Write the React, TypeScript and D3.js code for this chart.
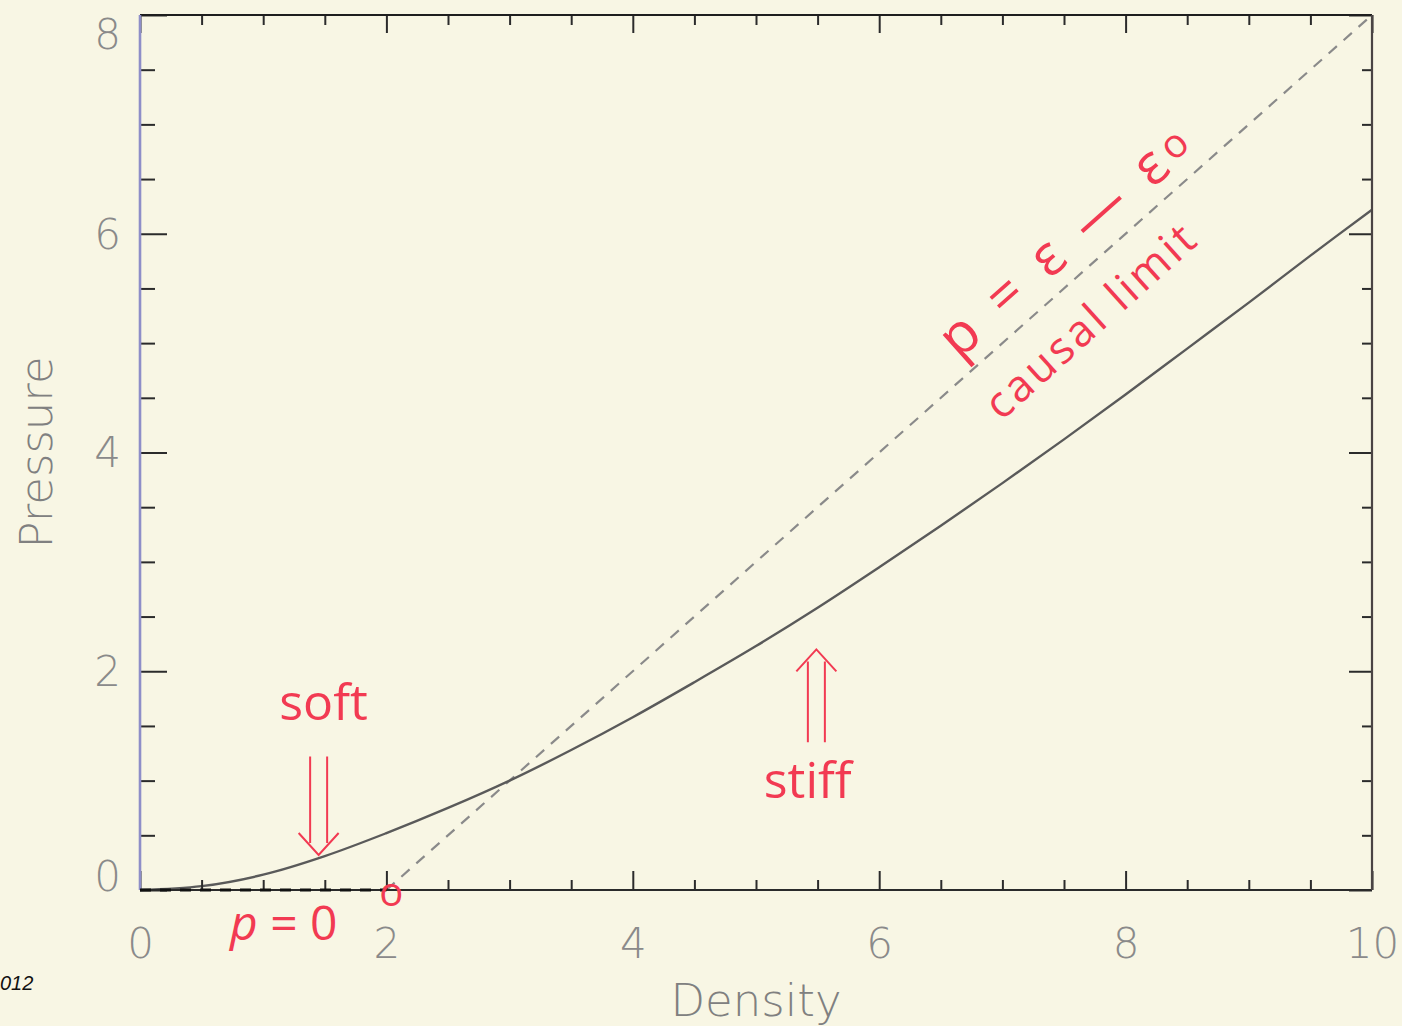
import React, { useEffect, useRef } from "react";
import * as d3 from "d3";

// equation of state curve
const density = [0, 0.5, 1, 1.5, 2, 2.5, 3, 3.5, 4, 4.5, 5, 5.5, 6, 6.5, 7, 7.5, 8, 8.5, 9, 9.5, 10];
const pressure = [0, 0.035, 0.14, 0.31, 0.52, 0.75, 1.0, 1.28, 1.58, 1.9, 2.23, 2.58, 2.95, 3.33, 3.72, 4.12, 4.53, 4.95, 5.37, 5.8, 6.22];

// causal limit p = e - e0 and the p = 0 segment
const causalDensity = [2, 10];
const causalPressure = [0, 8];
const zeroDensity = [0, 2];
const zeroPressure = [0, 0];

const densityTicks = [0, 2, 4, 6, 8, 10];
const pressureTicks = [0, 2, 4, 6, 8];

const W = 1402;
const H = 1026;
const RED = "#f23a52";

const App: React.FC = () => {
  const ref = useRef<SVGSVGElement | null>(null);

  useEffect(() => {
    if (!ref.current) return;
    const svg = d3.select(ref.current);
    svg.selectAll("*").remove();

    const x = d3.scaleLinear().domain([0, 10]).range([140, 1372]);
    const y = d3.scaleLinear().domain([0, 8]).range([890, 15]);

    svg.append("rect").attr("width", W).attr("height", H).attr("fill", "#f8f6e4");

    const minorX = d3.range(0, 10.001, 0.5).filter((v) => v % 2 !== 0);
    const minorY = d3.range(0, 8.001, 0.5).filter((v) => v % 2 !== 0);

    const styleAxis = (g: d3.Selection<SVGGElement, unknown, null, undefined>) => {
      g.select(".domain").remove();
      g.selectAll("line").attr("stroke", "#2b2b2b").attr("stroke-width", 2);
      g.attr("font-family", "'DejaVu Sans', sans-serif")
        .attr("font-size", 42)
        .attr("font-weight", 200);
      g.selectAll("text").attr("fill", "#8a8a8a");
    };

    // causal limit dashed line
    const line = d3
      .line<[number, number]>()
      .x((d) => x(d[0]))
      .y((d) => y(d[1]));

    svg
      .append("path")
      .attr("d", line(causalDensity.map((d, i) => [d, causalPressure[i]]) as [number, number][]))
      .attr("fill", "none")
      .attr("stroke", "#8a8a8a")
      .attr("stroke-width", 2.2)
      .attr("stroke-dasharray", "11,9");

    // EOS curve
    const curve = d3
      .line<[number, number]>()
      .x((d) => x(d[0]))
      .y((d) => y(d[1]))
      .curve(d3.curveCatmullRom);
    svg
      .append("path")
      .attr("d", curve(density.map((d, i) => [d, pressure[i]]) as [number, number][]))
      .attr("fill", "none")
      .attr("stroke", "#5a5a5a")
      .attr("stroke-width", 2.4);

    // bottom axis
    const bottom = svg
      .append("g")
      .attr("transform", `translate(0,${y(0)})`)
      .call(d3.axisBottom(x).tickValues(densityTicks).tickSize(-19).tickPadding(38).tickFormat(d3.format("d")));
    styleAxis(bottom);
    const bottomMinor = svg
      .append("g")
      .attr("transform", `translate(0,${y(0)})`)
      .call(d3.axisBottom(x).tickValues(minorX).tickSize(-10).tickFormat(() => ""));
    styleAxis(bottomMinor);

    // top axis
    const top = svg
      .append("g")
      .attr("transform", `translate(0,${y(8)})`)
      .call(d3.axisTop(x).tickValues(densityTicks).tickSize(-18).tickFormat(() => ""));
    styleAxis(top);
    const topMinor = svg
      .append("g")
      .attr("transform", `translate(0,${y(8)})`)
      .call(d3.axisTop(x).tickValues(minorX).tickSize(-10).tickFormat(() => ""));
    styleAxis(topMinor);

    // left axis
    const left = svg
      .append("g")
      .attr("transform", `translate(${x(0)},0)`)
      .call(d3.axisLeft(y).tickValues(pressureTicks).tickSize(-27).tickPadding(19).tickFormat(d3.format("d")));
    styleAxis(left);
    left
      .selectAll<SVGTextElement, number>("text")
      .attr("dy", (d) => (d === 8 ? "0.8em" : d === 0 ? "0.02em" : "0.34em"));
    const leftMinor = svg
      .append("g")
      .attr("transform", `translate(${x(0)},0)`)
      .call(d3.axisLeft(y).tickValues(minorY).tickSize(-15).tickFormat(() => ""));
    styleAxis(leftMinor);

    // right axis
    const right = svg
      .append("g")
      .attr("transform", `translate(${x(10)},0)`)
      .call(d3.axisRight(y).tickValues(pressureTicks).tickSize(-23).tickFormat(() => ""));
    styleAxis(right);
    const rightMinor = svg
      .append("g")
      .attr("transform", `translate(${x(10)},0)`)
      .call(d3.axisRight(y).tickValues(minorY).tickSize(-10).tickFormat(() => ""));
    styleAxis(rightMinor);

    // frame
    const frame = svg.append("g").attr("stroke-width", 2.2);
    frame.append("line").attr("x1", x(0)).attr("x2", x(10)).attr("y1", y(8)).attr("y2", y(8)).attr("stroke", "#1e1e1e");
    frame.append("line").attr("x1", x(0)).attr("x2", x(10)).attr("y1", y(0)).attr("y2", y(0)).attr("stroke", "#2a2a2a");
    frame.append("line").attr("x1", x(10)).attr("x2", x(10)).attr("y1", y(0)).attr("y2", y(8)).attr("stroke", "#4a4444");
    frame.append("line").attr("x1", x(0)).attr("x2", x(0)).attr("y1", y(0)).attr("y2", y(8)).attr("stroke", "#8e8ec8").attr("stroke-width", 2.6);

    // p = 0 dashed segment on the axis
    svg
      .append("path")
      .attr("d", line(zeroDensity.map((d, i) => [d, zeroPressure[i]]) as [number, number][]))
      .attr("fill", "none")
      .attr("stroke", "#111")
      .attr("stroke-width", 3.2)
      .attr("stroke-dasharray", "11,9");

    // axis titles
    svg
      .append("text")
      .attr("x", (x(0) + x(10)) / 2)
      .attr("y", 1016)
      .attr("text-anchor", "middle")
      .attr("font-family", "'DejaVu Sans', sans-serif")
      .attr("font-weight", 200)
      .attr("font-size", 45)
      .attr("fill", "#808080")
      .text("Density");
    svg
      .append("text")
      .attr("transform", `translate(52,${(y(0) + y(8)) / 2}) rotate(-90)`)
      .attr("text-anchor", "middle")
      .attr("font-family", "'DejaVu Sans', sans-serif")
      .attr("font-weight", 200)
      .attr("font-size", 45)
      .attr("fill", "#808080")
      .text("Pressure");

    // red annotations
    const ann = svg.append("g").attr("fill", RED).attr("font-family", "'Open Sans', sans-serif");
    ann.append("text").attr("x", x(1.49)).attr("y", y(1.55)).attr("text-anchor", "middle").attr("font-size", 50).text("soft");
    ann.append("text").attr("x", x(5.42)).attr("y", y(0.84)).attr("text-anchor", "middle").attr("font-size", 50).text("stiff");

    const pz = ann.append("text").attr("x", x(0.73)).attr("y", y(-0.457)).attr("font-size", 48);
    pz.append("tspan").attr("font-style", "italic").text("p");
    pz.append("tspan").text(" = 0");

    ann.append("text").attr("x", x(2.04)).attr("y", y(-0.15)).attr("text-anchor", "middle").attr("font-size", 40).text("o");

    const eq = ann
      .append("text")
      .attr("transform", `translate(${x(7.49)},${y(5.95)}) rotate(-41.5)`)
      .attr("text-anchor", "middle")
      .attr("dominant-baseline", "central")
      .attr("font-size", 56)
      .attr("textLength", 316)
      .attr("lengthAdjust", "spacing");
    eq.append("tspan").text("p = ε — ε");
    eq.append("tspan").attr("font-size", 40).text("o");

    ann
      .append("text")
      .attr("transform", `translate(${x(7.7)},${y(5.21)}) rotate(-42)`)
      .attr("text-anchor", "middle")
      .attr("dominant-baseline", "central")
      .attr("font-size", 44)
      .attr("textLength", 266)
      .attr("lengthAdjust", "spacing")
      .text("causal limit");

    // double arrows
    const doubleArrow = (cx: number, yTail: number, yTip: number) => {
      const px = x(cx);
      const t = y(yTail);
      const h = y(yTip);
      const dir = Math.sign(h - t);
      const gap = 8.5;
      const head = 22;
      const hw = 20;
      const end = h - dir * 12;
      const d =
        `M${px - gap},${t}L${px - gap},${end}` +
        `M${px + gap},${t}L${px + gap},${end}` +
        `M${px - hw},${h - dir * head}L${px},${h}L${px + hw},${h - dir * head}`;
      svg
        .append("path")
        .attr("d", d)
        .attr("fill", "none")
        .attr("stroke", RED)
        .attr("stroke-width", 2)
        .attr("stroke-linejoin", "miter");
    };
    doubleArrow(1.45, 1.22, 0.32);
    doubleArrow(5.49, 1.35, 2.2);

    // clipped footer text
    svg
      .append("text")
      .attr("x", 0)
      .attr("y", 990)
      .attr("font-family", "'Liberation Sans', Arial, sans-serif")
      .attr("font-style", "italic")
      .attr("font-size", 20)
      .attr("fill", "#111")
      .text("012");
  }, []);

  return (
    <svg
      ref={ref}
      width={W}
      height={H}
      style={{ position: "absolute", left: 0, top: 0 }}
    />
  );
};

export default App;
